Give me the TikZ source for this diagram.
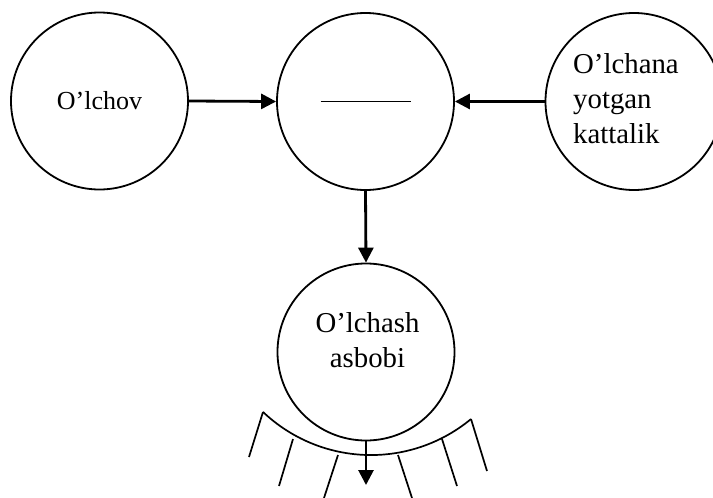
\documentclass[tikz,border=0pt]{standalone}
\usepackage{fontspec}
\setmainfont{Liberation Serif}
\usetikzlibrary{arrows.meta}
\begin{document}
\begin{tikzpicture}[x=1pt,y=-1pt,
  ring/.style={draw, line width=1.8pt, circle, minimum size=177pt, inner sep=0pt},
  lbl/.style={font=\fontsize{28.8pt}{35pt}\selectfont, inner sep=0pt},
  small/.style={font=\fontsize{26pt}{32pt}\selectfont},
  flow/.style={line width=2.8pt, -{Triangle[length=15pt,width=15pt]}},
  tickline/.style={line width=1.7pt}]
\useasboundingbox (0,0) rectangle (713,498);
\clip (0,0) rectangle (713,498);
\node[ring, small] (meas) at (99.5,101) {O’lchov};
\node[ring] (cmp) at (365.5,101.5) {};
\node[ring] (qty) at (634,101.5) {};
\node[ring] (dev) at (366,352) {};
\node[lbl, align=left, anchor=west] (qtytxt) at (573,98.2) {O’lchana\\yotgan\\kattalik};
\node[lbl, align=center] (devtxt) at (367.5,339.7) {O’lchash\\asbobi};
\draw[line width=1.6pt] ([xshift=-45pt]cmp.center) -- ([xshift=45pt]cmp.center);
\draw[flow] (meas.east) -- (cmp.west);
\draw[flow] (qty.west) -- (cmp.east);
\draw[flow] (cmp.south) -- (dev.north);
\coordinate (out) at (366,485);
\draw[flow] (dev.south) -- (out);
\draw[tickline] plot[domain=133.5:50.4, samples=50, smooth] ({371+156.85*cos(\x)}, {298.2+156.85*sin(\x)});
\draw[tickline] (263,412) -- (249,457);
\draw[tickline] (293,439) -- (279,486);
\draw[tickline] (338,455) -- (324,498);
\draw[tickline] (398,455) -- (412,498);
\draw[tickline] (442,439) -- (457,486);
\draw[tickline] (471,419) -- (487,471);
\end{tikzpicture}
\end{document}
